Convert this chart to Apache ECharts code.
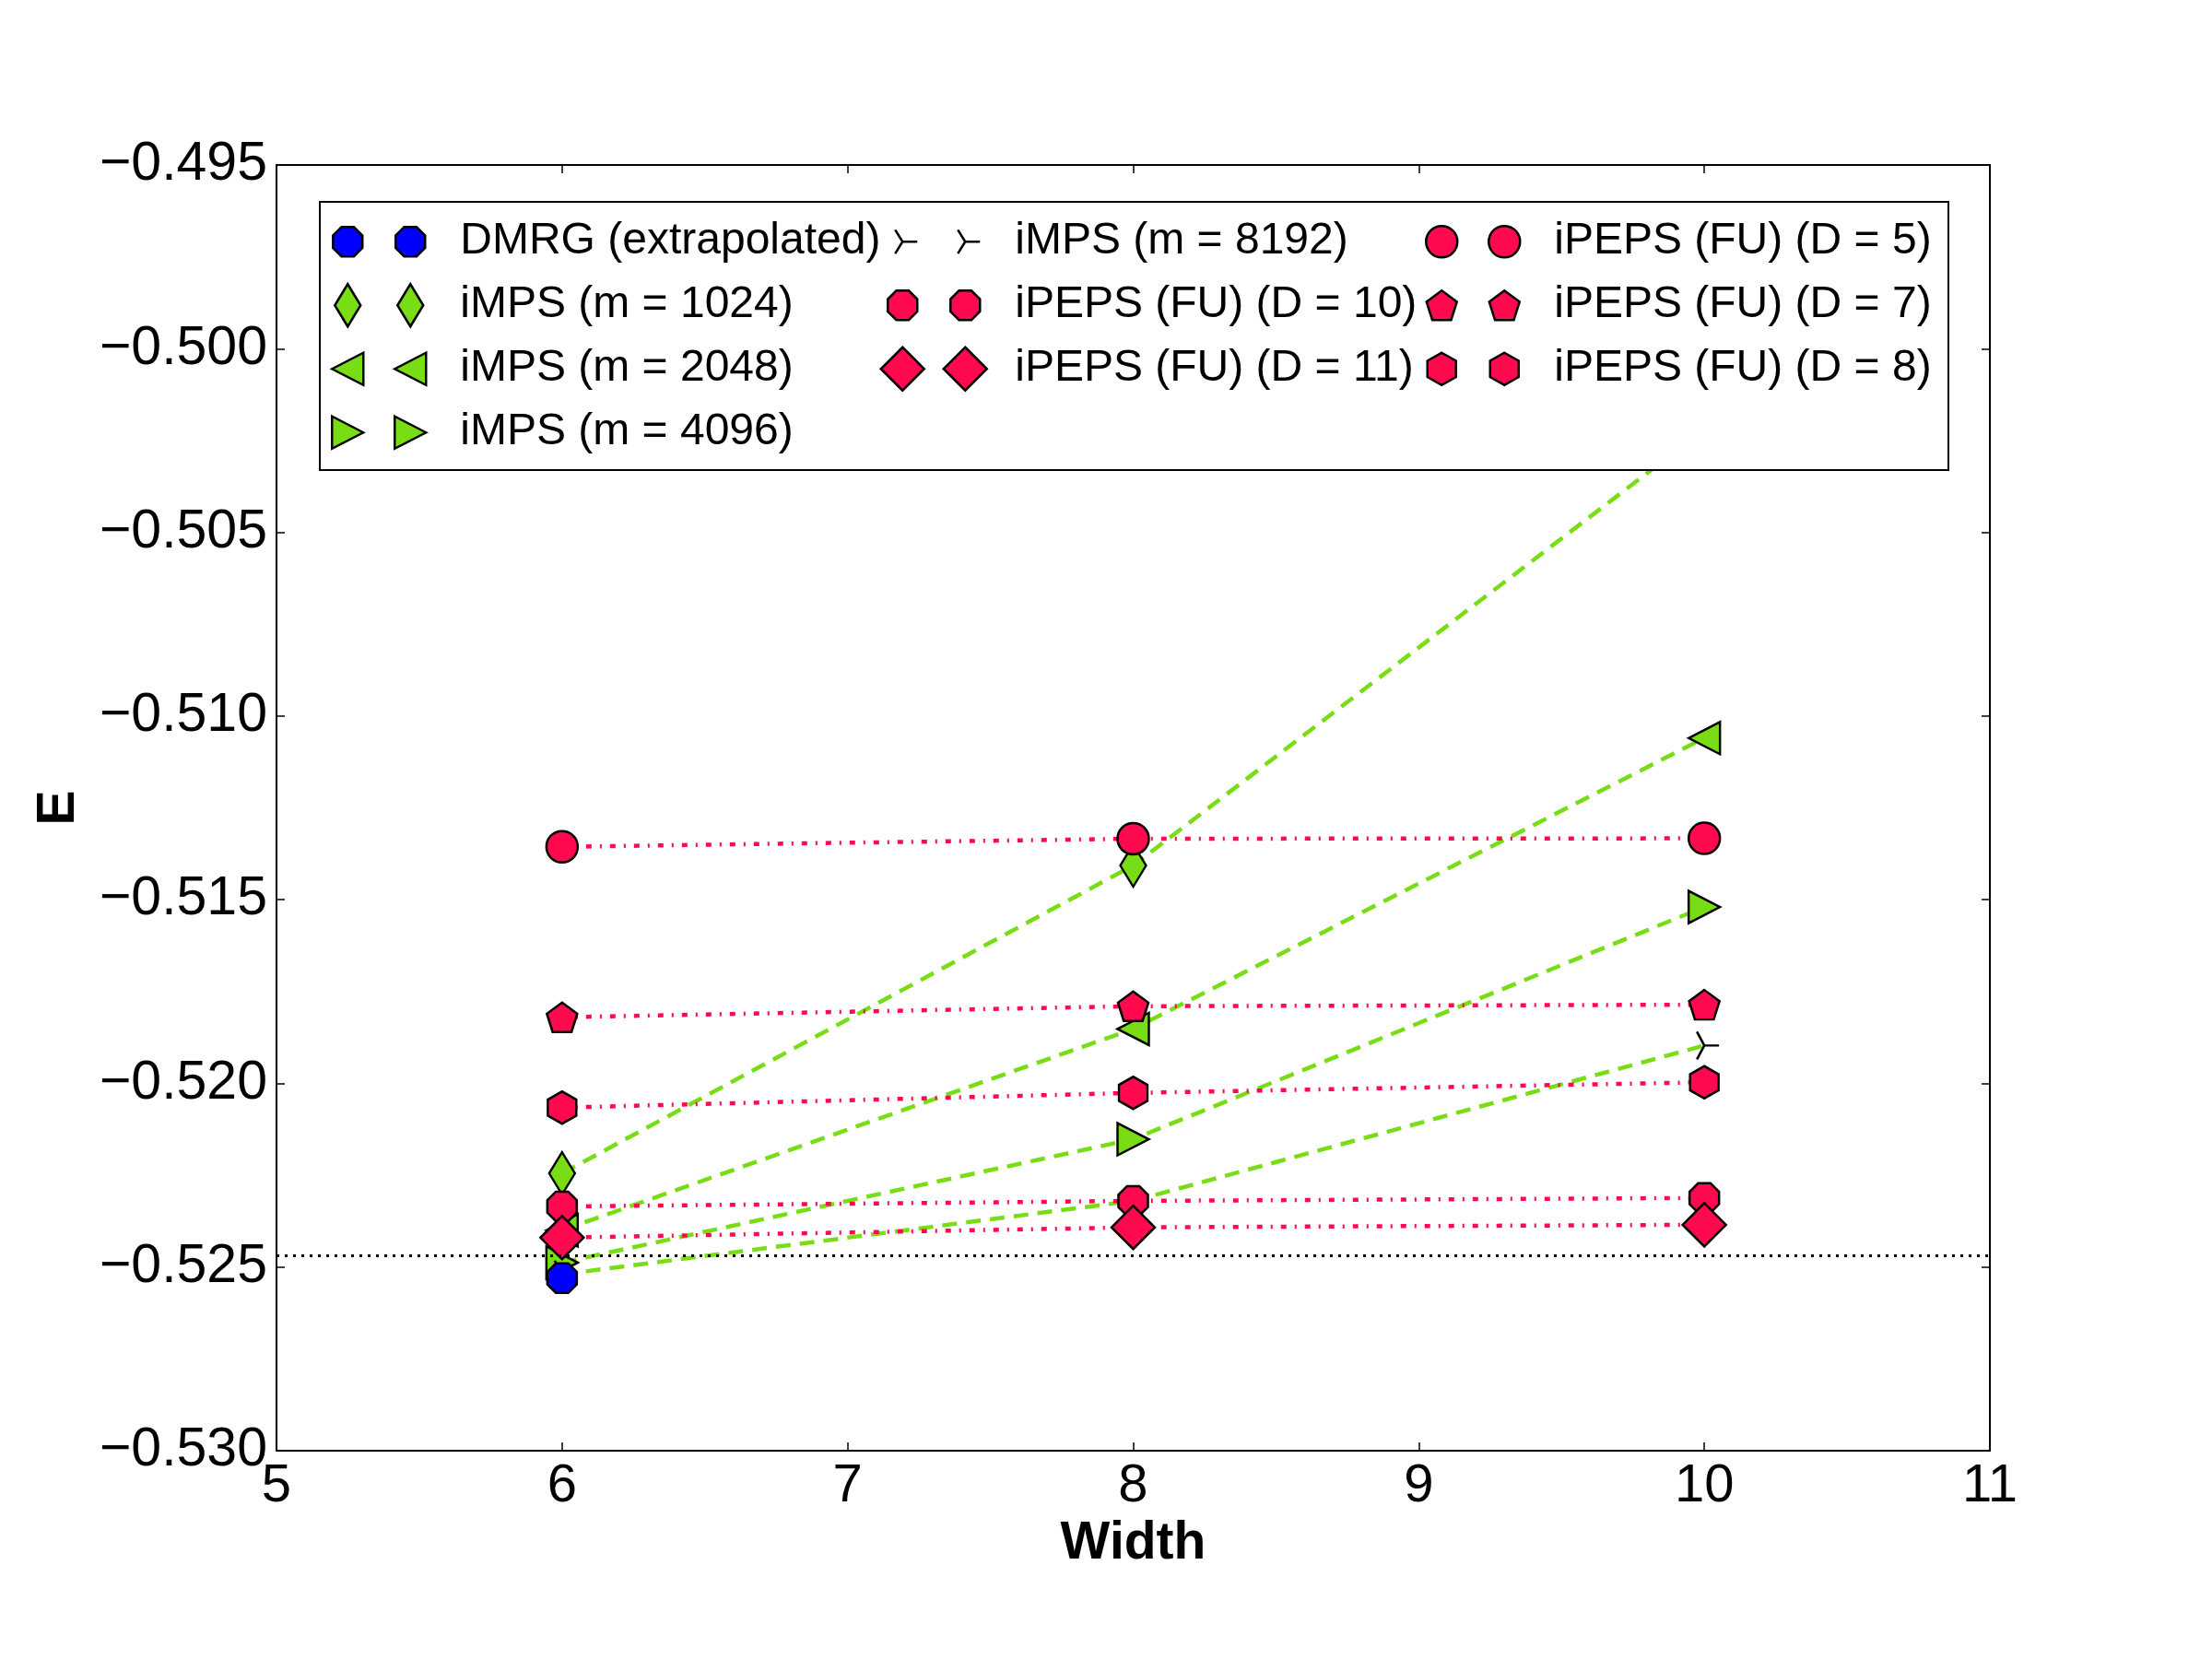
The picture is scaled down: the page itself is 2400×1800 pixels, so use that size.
<!DOCTYPE html>
<html>
<head>
<meta charset="utf-8">
<script src="https://cdn.jsdelivr.net/npm/echarts@6/dist/echarts.min.js"></script>
<style>
  html, body { margin: 0; padding: 0; background: #fff; }
  #chartmain { width: 2400px; height: 1800px; }
</style>
</head>
<body>
<div id="chartmain"></div>
<script>
// x positions (lattice width)
var widths = [6, 8, 10];
var dmrgWidths = [6];

// energies
var dmrg = [-0.5253];
var imps1024 = [-0.52245, -0.51407, -0.5022];
var imps2048 = [-0.5240, -0.51852, -0.5106];
var imps4096 = [-0.52488, -0.52152, -0.5152];
var imps8192 = [-0.5252, -0.5232, -0.51897];
var peps10 = [-0.52335, -0.5232, -0.52312];
var peps11 = [-0.5242, -0.52392, -0.52385];
var peps5 = [-0.51356, -0.51334, -0.51333];
var peps7 = [-0.5182, -0.5179, -0.51786];
var peps8 = [-0.52066, -0.52026, -0.51997];
var refLine = -0.52468;

var xTicks = { min: 5, max: 11, step: 1 };
var yTicks = { min: -0.530, max: -0.495, step: 0.005 };

var GREEN = '#78DD14';
var PINK = '#FF0A4E';
var BLUE = '#0000FF';

// marker outlines in a unit box
var OCT = [[0.29, 0], [0.71, 0], [1, 0.29], [1, 0.71], [0.71, 1], [0.29, 1], [0, 0.71], [0, 0.29]];
var HEX = [[0.5, 0], [1, 0.25], [1, 0.75], [0.5, 1], [0, 0.75], [0, 0.25]];
var PENT = [[0.5, 0], [1, 0.38], [0.81, 1], [0.19, 1], [0, 0.38]];
var TRIL = [[0, 0.5], [1, 0], [1, 1]];
var TRIR = [[1, 0.5], [0, 0], [0, 1]];
var DIA = [[0.5, 0], [1, 0.5], [0.5, 1], [0, 0.5]];

function f(n) { return Math.round(n * 100) / 100; }

function shape(kind, cx, cy, w, h) {
	var x0 = cx - w / 2, y0 = cy - h / 2;
	if (kind === 'circle') {
		var r = w / 2;
		return 'M' + f(cx - r) + ',' + f(cy) + ' A' + f(r) + ',' + f(r) + ' 0 1,0 ' + f(cx + r) + ',' + f(cy) +
			' A' + f(r) + ',' + f(r) + ' 0 1,0 ' + f(cx - r) + ',' + f(cy) + ' Z ';
	}
	if (kind === 'arms') {
		return 'M' + f(x0) + ',' + f(cy) + ' M' + f(cx) + ',' + f(cy) + ' L' + f(x0 + w) + ',' + f(cy) +
			' M' + f(cx) + ',' + f(cy) + ' L' + f(x0 + w * 0.25) + ',' + f(y0 + h * 0.07) +
			' M' + f(cx) + ',' + f(cy) + ' L' + f(x0 + w * 0.25) + ',' + f(y0 + h * 0.93) + ' ';
	}
	var pts = { oct: OCT, hex: HEX, pent: PENT, tril: TRIL, trir: TRIR, dia: DIA }[kind];
	var s = '';
	for (var i = 0; i < pts.length; i++) {
		s += (i === 0 ? 'M' : 'L') + f(x0 + pts[i][0] * w) + ',' + f(y0 + pts[i][1] * h) + ' ';
	}
	return s + 'Z ';
}

// legend icon box
var ICON_W = 143, ICON_H = 48, M1 = 26, M2 = 94;

function seriesSymbol(kind) {
	if (kind === 'circle') return 'circle';
	if (kind === 'dia') return 'diamond';
	return 'path://' + shape(kind, 0.5, 0.5, 1, 1);
}

function legendIcon(kind, size) {
	var w = size[0], h = size[1];
	return 'path://M0,0 M' + ICON_W + ',' + ICON_H + ' ' +
		shape(kind, M1, ICON_H / 2, w, h) + shape(kind, M2, ICON_H / 2, w, h);
}

function pts(xs, ys) {
	var out = [];
	for (var i = 0; i < ys.length; i++) {
		out.push([xs[i], ys[i]]);
	}
	return out;
}

var dashGreen = { color: GREEN, width: 4.5, type: [16, 10] };
var dashPink = { color: PINK, width: 4.5, type: [6, 9, 2, 9] };

var icons = {};

function mk(name, xs, ys, color, line, kind, size, z) {
	icons[name] = legendIcon(kind, size);
	return {
		name: name,
		type: 'line',
		data: pts(xs, ys),
		symbol: seriesSymbol(kind),
		symbolSize: size,
		z: z,
		lineStyle: line,
		itemStyle: { color: color, borderColor: '#000', borderWidth: 2.5, opacity: 1 },
		emphasis: { disabled: true }
	};
}

var series = [
	mk('iMPS (m = 1024)', widths, imps1024, GREEN, dashGreen, 'dia', [28, 46], 2),
	mk('iMPS (m = 2048)', widths, imps2048, GREEN, dashGreen, 'tril', [34, 35], 2),
	mk('iMPS (m = 4096)', widths, imps4096, GREEN, dashGreen, 'trir', [34, 35], 2),
	mk('iMPS (m = 8192)', widths, imps8192, 'rgba(0,0,0,0)', dashGreen, 'arms', [32, 30], 2),
	mk('iPEPS (FU) (D = 10)', widths, peps10, PINK, dashPink, 'oct', [32, 32], 3),
	mk('iPEPS (FU) (D = 11)', widths, peps11, PINK, dashPink, 'dia', [47, 47], 3),
	mk('iPEPS (FU) (D = 5)', widths, peps5, PINK, dashPink, 'circle', [34, 34], 3),
	mk('iPEPS (FU) (D = 7)', widths, peps7, PINK, dashPink, 'pent', [33, 32], 3),
	mk('iPEPS (FU) (D = 8)', widths, peps8, PINK, dashPink, 'hex', [31, 35], 3),
	mk('DMRG (extrapolated)', dmrgWidths, dmrg, BLUE, { color: BLUE, width: 2, type: [2, 4] }, 'oct', [32, 32], 4)
];
series[9].markLine = {
	silent: true,
	symbol: 'none',
	precision: 6,
	label: { show: false },
	lineStyle: { color: '#000', width: 3, type: [3, 6] },
	data: [{ yAxis: refLine }]
};

var legendText = { fontFamily: 'Liberation Sans', fontSize: 48, color: '#000', lineHeight: 48 };
function legendCol(names, left) {
	var data = [];
	for (var i = 0; i < names.length; i++) {
		data.push({ name: names[i], icon: icons[names[i]] });
	}
	return {
		data: data,
		orient: 'vertical',
		left: left,
		top: 237,
		itemWidth: ICON_W,
		itemHeight: ICON_H,
		itemGap: 18.5,
		padding: 0,
		selectedMode: false,
		itemStyle: { borderColor: '#000', borderWidth: 2.5 },
		textStyle: legendText
	};
}

var axisFont = { fontFamily: 'Liberation Sans', fontSize: 58, color: '#000' };
var yFont = { fontFamily: 'Liberation Sans', fontSize: 59, color: '#000' };
var nameFont = { fontFamily: 'Liberation Sans', fontSize: 57, color: '#000', fontWeight: 'bold' };
var frame = { show: true, onZero: false, lineStyle: { color: '#000', width: 2 } };
var ticks = { show: true, inside: true, length: 9, lineStyle: { color: '#000', width: 1.5 } };

var option = {
	animation: false,
	backgroundColor: '#fff',
	grid: { left: 300, right: 241, top: 179, bottom: 226 },
	legend: [
		legendCol(['DMRG (extrapolated)', 'iMPS (m = 1024)', 'iMPS (m = 2048)', 'iMPS (m = 4096)'], 350),
		legendCol(['iMPS (m = 8192)', 'iPEPS (FU) (D = 10)', 'iPEPS (FU) (D = 11)'], 952),
		legendCol(['iPEPS (FU) (D = 5)', 'iPEPS (FU) (D = 7)', 'iPEPS (FU) (D = 8)'], 1537)
	],
	graphic: [{
		type: 'rect',
		z: 3,
		shape: { x: 347, y: 219, width: 1767, height: 291 },
		style: { fill: '#fff', stroke: '#000', lineWidth: 2 }
	}],
	xAxis: [{
		type: 'value',
		min: xTicks.min, max: xTicks.max, interval: xTicks.step,
		name: 'Width', nameLocation: 'middle', nameGap: 58, nameTextStyle: nameFont,
		axisLine: frame, axisTick: ticks, splitLine: { show: false },
		axisLabel: { margin: 10, textStyle: axisFont }
	}, {
		type: 'value', position: 'top',
		min: xTicks.min, max: xTicks.max, interval: xTicks.step,
		axisLine: frame, axisTick: ticks, splitLine: { show: false },
		axisLabel: { show: false }
	}],
	yAxis: [{
		type: 'value',
		min: yTicks.min, max: yTicks.max, interval: yTicks.step,
		name: 'E', nameLocation: 'middle', nameGap: 207, nameTextStyle: nameFont,
		axisLine: frame, axisTick: ticks, splitLine: { show: false },
		axisLabel: {
			margin: 10,
			textStyle: yFont,
			formatter: function (v) {
				return (v < 0 ? '\u2212' : '') + Math.abs(v).toFixed(3);
			}
		}
	}, {
		type: 'value', position: 'right',
		min: yTicks.min, max: yTicks.max, interval: yTicks.step,
		axisLine: frame, axisTick: ticks, splitLine: { show: false },
		axisLabel: { show: false }
	}],
	series: series
};

// 初始化echarts实例
var myChart = echarts.init(document.getElementById('chartmain'));
myChart.setOption(option);
</script>
</body>
</html>
